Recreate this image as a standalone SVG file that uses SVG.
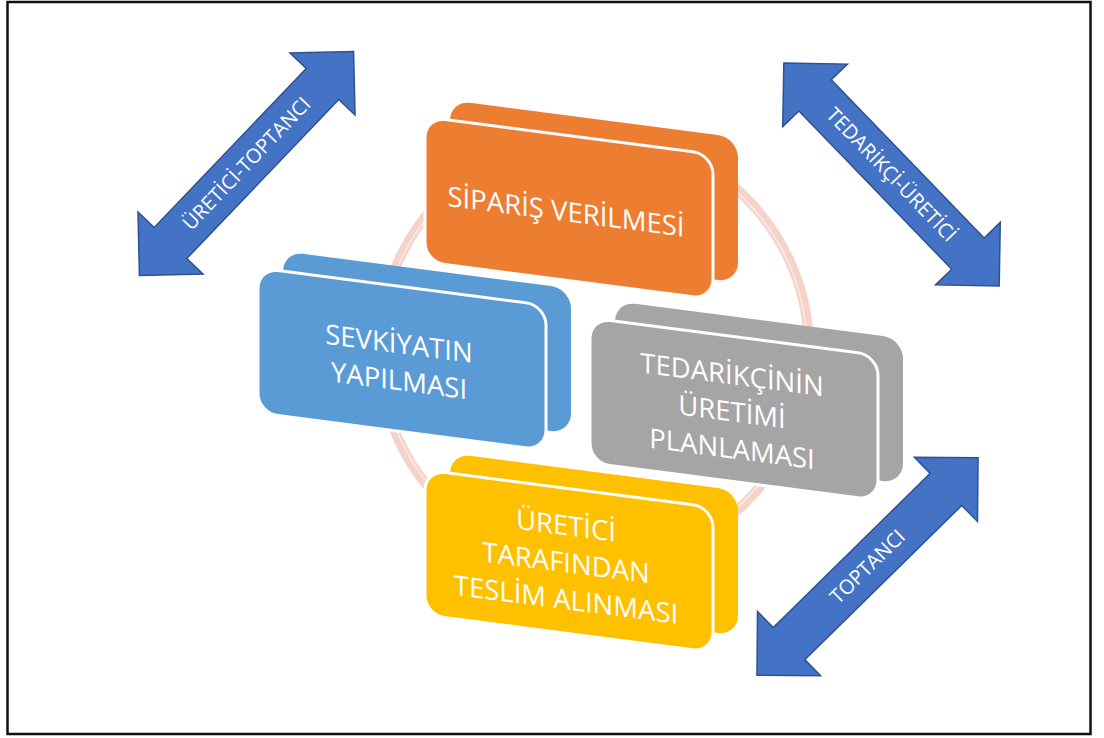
<svg xmlns="http://www.w3.org/2000/svg" width="1104" height="738" viewBox="0 0 1104 738">
<style>
.lbl{font-family:"Open Sans","Noto Sans","Liberation Sans",sans-serif;font-size:27.5px;fill:#ffffff;text-anchor:middle}
.alb{font-family:"Open Sans","Noto Sans","Liberation Sans",sans-serif;font-size:20px;fill:#ffffff;text-anchor:middle}
.front{stroke:#ffffff;stroke-width:3}
.arrow{fill:#4472c4;stroke:#2f528f;stroke-width:1.5;stroke-linejoin:miter}
</style>
<defs>
<rect id="face" x="0" y="0" width="288" height="145" rx="20" ry="20"/>
<polygon id="dbl" points="-155,0 -110,-45 -110,-22.5 110,-22.5 110,-45 155,0 110,45 110,22.5 -110,22.5 -110,45"/>
</defs>
<rect x="0" y="0" width="1104" height="738" fill="#ffffff"/>
<rect x="7.5" y="2" width="1083" height="732" fill="none" stroke="#111111" stroke-width="2.5"/>
<g id="ring">
<circle cx="594" cy="350" r="215" fill="none" stroke="#f6d3c9" stroke-width="10"/>
<circle cx="594" cy="350" r="213" fill="none" stroke="#fcebe6" stroke-width="1.5"/>
</g>
<g id="node-yellow" transform="translate(425,470) skewY(7.4)">
<use href="#face" x="25" y="-20" fill="#ffc000"/>
<use href="#face" class="front" fill="#ffc000"/>
<text class="lbl" x="141" y="47">ÜRETİCİ</text>
<text class="lbl" x="141" y="84">TARAFINDAN</text>
<text class="lbl" x="141" y="121">TESLİM ALINMASI</text>
</g>
<g id="node-gray" transform="translate(590,318) skewY(7.4)">
<use href="#face" x="25" y="-20" fill="#a5a5a5"/>
<use href="#face" class="front" fill="#a5a5a5"/>
<text class="lbl" x="142" y="48">TEDARİKÇİNİN</text>
<text class="lbl" x="142" y="85">ÜRETİMİ</text>
<text class="lbl" x="142" y="122">PLANLAMASI</text>
</g>
<g id="node-blue" transform="translate(258,268) skewY(7.4)">
<use href="#face" x="25" y="-20" fill="#5b9bd5"/>
<use href="#face" class="front" fill="#5b9bd5"/>
<text class="lbl" x="141" y="67">SEVKİYATIN</text>
<text class="lbl" x="141" y="104">YAPILMASI</text>
</g>
<g id="node-orange" transform="translate(425,117) skewY(7.4)">
<use href="#face" x="25" y="-20" fill="#ed7d31"/>
<use href="#face" class="front" fill="#ed7d31"/>
<text class="lbl" x="141" y="86">SİPARİŞ VERİLMESİ</text>
</g>
<g id="connectors">
<g transform="translate(246.5,163.5) rotate(-46.3)">
<use href="#dbl" class="arrow"/>
<text class="alb" x="0" y="7">ÜRETİCİ-TOPTANCI</text>
</g>
<g transform="translate(891.5,174.5) rotate(46)">
<use href="#dbl" class="arrow"/>
<text class="alb" x="0" y="7">TEDARİKÇİ-ÜRETİCİ</text>
</g>
<g transform="translate(867.5,566.5) rotate(-44.5)">
<use href="#dbl" class="arrow"/>
<text class="alb" x="0" y="7">TOPTANCI</text>
</g>
</g>
</svg>
